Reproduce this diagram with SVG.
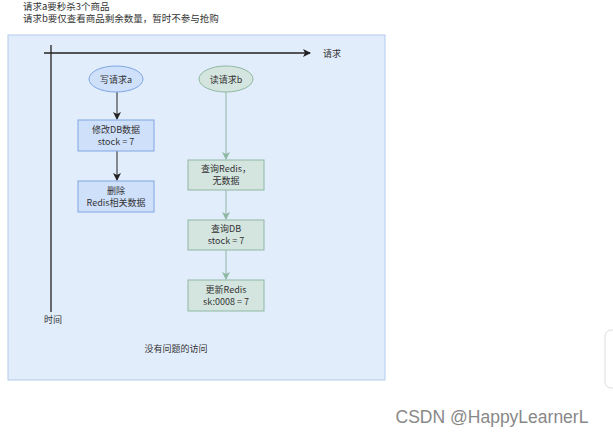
<svg xmlns="http://www.w3.org/2000/svg" width="613" height="437" viewBox="0 0 613 437">
<style>
text{font-family:"Noto Sans CJK SC","Liberation Sans",sans-serif;font-size:9px;fill:#333}
.ba{fill:#cfe0fb;stroke:#7ea6e0;stroke-width:1}
.bb{fill:#d4e5df;stroke:#8fb8a3;stroke-width:1}
.c{text-anchor:middle}
.t{font-size:9.5px}
.w{font-size:17.5px;fill:#888;font-family:"Liberation Sans",sans-serif}
</style>
<defs>
<marker id="ak" markerWidth="8" markerHeight="8" refX="7" refY="4" orient="auto" markerUnits="userSpaceOnUse"><path d="M0,0L8,4L0,8L2,4Z" fill="#222"/></marker>
<marker id="ag" markerWidth="8" markerHeight="8" refX="7" refY="4" orient="auto" markerUnits="userSpaceOnUse"><path d="M0,0L8,4L0,8L2,4Z" fill="#8fb8a3"/></marker>
</defs>
<rect width="613" height="437" fill="#ffffff"/>
<text x="23" y="10" class="t">请求a要秒杀3个商品</text>
<text x="23" y="22" class="t">请求b要仅查看商品剩余数量，暂时不参与抢购</text>
<rect x="8" y="35" width="377" height="345" fill="#e2edfc" stroke="#b3caec"/>
<g id="connectors" fill="none">
<line x1="44" y1="53" x2="310" y2="53" stroke="#222" stroke-width="1.3" marker-end="url(#ak)"/>
<line x1="51" y1="45" x2="51" y2="312" stroke="#222" stroke-width="1.3"/>
<line x1="117" y1="92" x2="117" y2="119" stroke="#222" marker-end="url(#ak)"/>
<line x1="117" y1="151" x2="117" y2="180" stroke="#222" marker-end="url(#ak)"/>
<line x1="226" y1="92" x2="226" y2="159" stroke="#8fb8a3" marker-end="url(#ag)"/>
<line x1="226" y1="190" x2="226" y2="219" stroke="#8fb8a3" marker-end="url(#ag)"/>
<line x1="226" y1="250" x2="226" y2="279" stroke="#8fb8a3" marker-end="url(#ag)"/>
</g>
<text x="323" y="57">请求</text>
<text x="44" y="323">时间</text>
<g id="a"><ellipse cx="116" cy="79" rx="27" ry="13" class="ba"/><text x="116" y="83" class="c">写请求a</text></g>
<g id="b"><ellipse cx="226" cy="79" rx="27" ry="13" class="bb"/><text x="226" y="83" class="c">读请求b</text></g>
<g id="a1"><rect x="78" y="120" width="76" height="31" class="ba"/><text x="116" y="133" class="c">修改DB数据</text><text x="116" y="145" class="c">stock = 7</text></g>
<g id="a2"><rect x="78" y="181" width="76" height="31" class="ba"/><text x="116" y="194" class="c">删除</text><text x="116" y="206" class="c">Redis相关数据</text></g>
<g id="b1"><rect x="188" y="160" width="76" height="30" class="bb"/><text x="226" y="172" class="c">查询Redis，</text><text x="226" y="184" class="c">无数据</text></g>
<g id="b2"><rect x="188" y="220" width="76" height="30" class="bb"/><text x="226" y="232" class="c">查询DB</text><text x="226" y="244" class="c">stock = 7</text></g>
<g id="b3"><rect x="188" y="280" width="76" height="31" class="bb"/><text x="226" y="293" class="c">更新Redis</text><text x="226" y="305" class="c">sk:0008 = 7</text></g>
<text x="176" y="352" class="c">没有问题的访问</text>
<text x="492" y="423" class="c w">CSDN @HappyLearnerL</text>
<rect x="605" y="330" width="20" height="58" rx="6" fill="#fff" stroke="#ddd"/>
</svg>
